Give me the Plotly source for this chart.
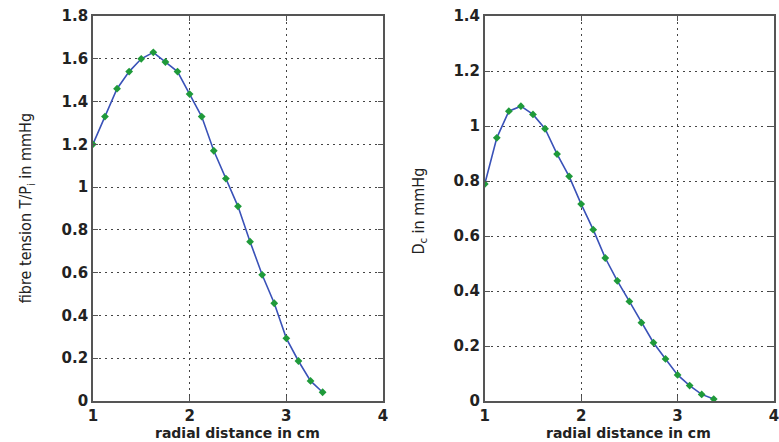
import plotly.graph_objects as go

x_vals = [1.0, 1.125, 1.25, 1.375, 1.5, 1.625, 1.75, 1.875, 2.0, 2.125,
          2.25, 2.375, 2.5, 2.625, 2.75, 2.875, 3.0, 3.125, 3.25, 3.375]
tension = [1.20, 1.33, 1.46, 1.54, 1.60, 1.63, 1.585, 1.54, 1.435, 1.33,
           1.17, 1.04, 0.91, 0.745, 0.59, 0.457, 0.293, 0.187, 0.094, 0.041]
dc = [0.789, 0.957, 1.054, 1.072, 1.042, 0.990, 0.898, 0.817, 0.716, 0.623,
      0.520, 0.437, 0.362, 0.285, 0.212, 0.153, 0.095, 0.056, 0.024, 0.007]

x_ticks = [1, 2, 3, 4]
left_ticks = [0, 0.2, 0.4, 0.6, 0.8, 1, 1.2, 1.4, 1.6, 1.8]
left_ticklabels = ["0", "0.2", "0.4", "0.6", "0.8", "1", "1.2", "1.4", "1.6", "1.8"]
right_ticks = [0, 0.2, 0.4, 0.6, 0.8, 1, 1.2, 1.4]
right_ticklabels = ["0", "0.2", "0.4", "0.6", "0.8", "1", "1.2", "1.4"]

W, H = 779, 442
LINE = "#3a52b8"
MARK = "#1f9a3a"

fig = go.Figure()
fig.add_trace(go.Scatter(x=x_vals, y=tension, mode="lines+markers",
                         line=dict(color=LINE, width=1.6),
                         marker=dict(symbol="diamond", size=6, color=MARK),
                         xaxis="x", yaxis="y", showlegend=False))
fig.add_trace(go.Scatter(x=x_vals, y=dc, mode="lines+markers",
                         line=dict(color=LINE, width=1.6),
                         marker=dict(symbol="diamond", size=6, color=MARK),
                         xaxis="x2", yaxis="y2", showlegend=False))

tickfont = dict(family="DejaVu Sans", size=15, color="#222222", weight="bold")
common_ax = dict(showline=True, linecolor="#555555", linewidth=1.5, mirror="ticks",
                 ticks="inside", ticklen=5, tickcolor="#555555",
                 showgrid=True, gridcolor="#444444", gridwidth=1, griddash="2px,4px",
                 zeroline=False, tickfont=tickfont, ticklabeloverflow="allow")

fig.update_layout(
    width=W, height=H,
    margin=dict(l=0, r=0, t=16, b=41),
    paper_bgcolor="white", plot_bgcolor="white",
    xaxis=dict(domain=[89 / W, 383 / W], range=[1, 4], tickvals=x_ticks,
               ticktext=[str(v) for v in x_ticks], anchor="y", **common_ax),
    yaxis=dict(domain=[0, 1], range=[0, 1.8], tickvals=left_ticks,
               ticktext=left_ticklabels, anchor="x", **common_ax),
    xaxis2=dict(domain=[486 / W, 1.0], range=[1, 4.0], tickvals=x_ticks,
                ticktext=[str(v) for v in x_ticks], anchor="y2", **common_ax),
    yaxis2=dict(domain=[0, 1], range=[0, 1.4], tickvals=right_ticks,
                ticktext=right_ticklabels, anchor="x2", **common_ax),
)

title_font = dict(family="DejaVu Sans", size=14, color="#222222", weight="bold")
narrow_font = dict(family="DejaVu Sans Condensed", size=16, color="#222222")

fig.add_annotation(text="radial distance in cm", xref="paper", yref="paper",
                   x=236 / W, y=(401 - 433) / 385, showarrow=False,
                   font=title_font, xanchor="center", yanchor="middle")
fig.add_annotation(text="radial distance in cm", xref="paper", yref="paper",
                   x=632 / W, y=(401 - 433) / 385, showarrow=False,
                   font=title_font, xanchor="center", yanchor="middle")
fig.add_annotation(text="fibre tension T/P<sub>i</sub> in mmHg", xref="paper", yref="paper",
                   x=22 / W, y=0.5, textangle=-90, showarrow=False,
                   font=narrow_font, xanchor="center", yanchor="middle")
fig.add_annotation(text="D<sub>c</sub> in mmHg", xref="paper", yref="paper",
                   x=419 / W, y=(401 - 211) / 385, textangle=-90, showarrow=False,
                   font=narrow_font, xanchor="center", yanchor="middle")

fig.write_html("out.html")
